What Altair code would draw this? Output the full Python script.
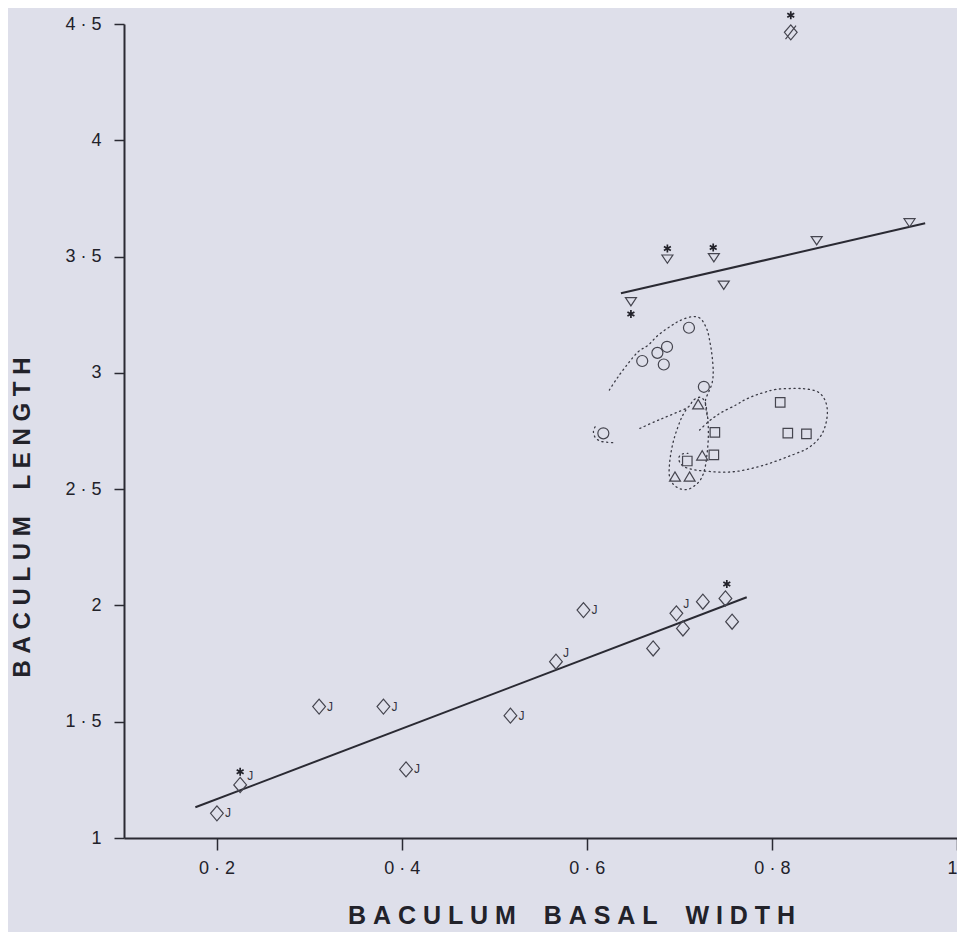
import altair as alt
import pandas as pd

# ---------------- data ----------------
# diamonds (lower series); J = juvenile label position
dia_x = [0.2004, 0.2255, 0.3108, 0.3803, 0.4047, 0.5175, 0.5667, 0.5964,
         0.6717, 0.6968, 0.7039, 0.7254, 0.7498, 0.7570]
dia_y = [1.106, 1.228, 1.565, 1.565, 1.295, 1.526, 1.758, 1.980,
         1.815, 1.966, 1.901, 2.016, 2.030, 1.930]
dia_j = ["right", "upper", "right", "right", "right", "right", "upper", "right",
         "", "upper", "", "", "", ""]

# slashed diamond (top)
sdia_x = [0.8204]
sdia_y = [4.464]

# inverted triangles
tdn_x = [0.6477, 0.6871, 0.7373, 0.7480, 0.8484, 0.9487]
tdn_y = [3.306, 3.489, 3.495, 3.377, 3.568, 3.645]

# circles
cir_x = [0.7104, 0.6867, 0.6763, 0.6599, 0.6832, 0.7265, 0.6179]
cir_y = [3.194, 3.112, 3.086, 3.051, 3.036, 2.940, 2.740]

# triangles
tup_x = [0.7204, 0.7247, 0.6953, 0.7111]
tup_y = [2.864, 2.644, 2.553, 2.553]

# squares
sq_x = [0.8090, 0.7384, 0.8172, 0.8373, 0.7373, 0.7086]
sq_y = [2.873, 2.744, 2.741, 2.738, 2.647, 2.621]

# asterisks
star_x = [0.2255, 0.7513, 0.8204, 0.6477, 0.6871, 0.7366]
star_y = [1.285, 2.092, 4.538, 3.253, 3.535, 3.539]

# regression lines
reg1_x = [0.1771, 0.7728]
reg1_y = [1.132, 2.035]
reg2_x = [0.6369, 0.9656]
reg2_y = [3.342, 3.643]

# dotted envelopes
envA_x = [0.6244, 0.6333, 0.6448, 0.6556, 0.6663, 0.6771, 0.6896, 0.7004, 0.7129,
          0.7226, 0.7298, 0.7333, 0.7355, 0.7366, 0.7355, 0.7319, 0.7283, 0.7290, 0.7308]
envA_y = [2.926, 2.980, 3.041, 3.091, 3.119, 3.162, 3.198, 3.224, 3.241,
          3.234, 3.187, 3.127, 3.069, 3.005, 2.958, 2.919, 2.883, 2.840, 2.804]

envB_x = [0.6574, 0.6735, 0.6842, 0.6968, 0.7093, 0.7154, 0.7226, 0.7276, 0.7298,
          0.7312, 0.7312, 0.7298, 0.7276, 0.7237, 0.7176, 0.7093, 0.7004, 0.6932,
          0.6893, 0.6893, 0.6910, 0.6939, 0.6979, 0.7025, 0.7075]
envB_y = [2.761, 2.790, 2.808, 2.829, 2.852, 2.883, 2.895, 2.876, 2.833,
          2.776, 2.711, 2.647, 2.589, 2.546, 2.518, 2.499, 2.502, 2.522,
          2.556, 2.604, 2.657, 2.711, 2.761, 2.808, 2.843]

envC_x = [0.7219, 0.7326, 0.7452, 0.7613, 0.7703, 0.7810, 0.7918, 0.8043, 0.8258,
          0.8401, 0.8509, 0.8573, 0.8599, 0.8588, 0.8545, 0.8466, 0.8366, 0.8240,
          0.8097, 0.7953, 0.7810, 0.7649, 0.7488, 0.7326, 0.7183, 0.7075, 0.7011,
          0.6996, 0.7032, 0.7093]
envC_y = [2.754, 2.794, 2.829, 2.862, 2.883, 2.902, 2.916, 2.929, 2.933,
          2.929, 2.915, 2.883, 2.840, 2.790, 2.740, 2.700, 2.671, 2.650,
          2.628, 2.608, 2.592, 2.578, 2.573, 2.576, 2.582, 2.592, 2.611,
          2.637, 2.651, 2.654]

envD_x = [0.6090, 0.6072, 0.6090, 0.6143, 0.6215, 0.6280]
envD_y = [2.768, 2.747, 2.723, 2.707, 2.702, 2.700]

x_ticks = [0.2, 0.4, 0.6, 0.8, 1.0]
y_ticks = [1, 1.5, 2, 2.5, 3, 3.5, 4, 4.5]

NB = "\u00a0"
def spaced(words):
    return (NB * 4).join(NB.join(w) for w in words)

x_title = spaced(["BACULUM", "BASAL", "WIDTH"])
y_title = spaced(["BACULUM", "LENGTH"])

# ---------------- chart ----------------
INK = "#2a2a33"
FONT = "Liberation Sans"

xscale = alt.Scale(domain=[0.1, 1.0], nice=False, zero=False)
yscale = alt.Scale(domain=[1, 4.5], nice=False, zero=False)

xaxis = alt.Axis(values=x_ticks, grid=False, title=x_title,
                 labelExpr="datum.value == 1 ? '1' : replace(format(datum.value, '.1f'), '.', ' · ')",
                 tickSize=12, labelPadding=9, labelFontSize=18,
                 titleX=447, titleY=85, titleAlign="center", titleBaseline="alphabetic",
                 titleFontSize=25, titleFontWeight="bold")
yaxis = alt.Axis(values=y_ticks, grid=False, title=y_title,
                 labelExpr="datum.value % 1 == 0 ? format(datum.value, 'd') : replace(format(datum.value, '.1f'), '.', ' · ')",
                 tickSize=10, labelPadding=13, labelFontSize=18,
                 titleX=-95, titleY=493, titleAngle=270, titleAlign="center",
                 titleBaseline="alphabetic", titleFontSize=24, titleFontWeight="bold")


def enc(chart):
    return chart.encode(
        x=alt.X("x:Q", scale=xscale, axis=xaxis),
        y=alt.Y("y:Q", scale=yscale, axis=yaxis),
    )


def df(xs, ys, **extra):
    d = pd.DataFrame({"x": xs, "y": ys})
    d["i"] = range(len(d))
    for k, v in extra.items():
        d[k] = v
    return d


DIAMOND = "M0,-1L0.85,0L0,1L-0.85,0Z"
SDIAMOND = "M0,-1L0.85,0L0,1L-0.85,0Z M-0.7,0.9L0.7,-0.9"
TDOWN = "M-1,-0.75L1,-0.75L0,0.75Z"
TUP = "M-1,0.8L0,-0.9L1,0.8Z"
STAR = "M0,-1L0,1M-0.87,-0.5L0.87,0.5M-0.87,0.5L0.87,-0.5"

layers = []

# envelopes
for ex, ey in [(envA_x, envA_y), (envB_x, envB_y), (envC_x, envC_y), (envD_x, envD_y)]:
    layers.append(enc(alt.Chart(df(ex, ey)).mark_line(
        color="#3a3a44", strokeWidth=1.3, strokeDash=[1.2, 3.6], strokeCap="round",
        interpolate="cardinal")).encode(order="i:Q"))

# regression lines
for rx, ry in [(reg1_x, reg1_y), (reg2_x, reg2_y)]:
    layers.append(enc(alt.Chart(df(rx, ry)).mark_line(color=INK, strokeWidth=2)).encode(order="i:Q"))

# symbols
sym = [
    (dia_x, dia_y, DIAMOND, 225),
    (sdia_x, sdia_y, SDIAMOND, 225),
    (tdn_x, tdn_y, TDOWN, 121),
    (cir_x, cir_y, "circle", 121),
    (tup_x, tup_y, TUP, 121),
    (sq_x, sq_y, "square", 90),
]
for sx, sy, shape, size in sym:
    layers.append(enc(alt.Chart(df(sx, sy)).mark_point(
        shape=shape, size=size, filled=False, color="#45454f", strokeWidth=1.2, opacity=1)))

layers.append(enc(alt.Chart(df(star_x, star_y)).mark_point(
    shape=STAR, size=64, filled=False, color="#22222a", strokeWidth=1.7, opacity=1)))

# J labels
jdf = df(dia_x, dia_y, j=dia_j)
right_j = jdf[jdf["j"] == "right"]
upper_j = jdf[jdf["j"] == "upper"]
layers.append(enc(alt.Chart(right_j).mark_text(
    text="J", align="left", baseline="middle", dx=8, dy=0, fontSize=12,
    font=FONT, color="#333340")))
layers.append(enc(alt.Chart(upper_j).mark_text(
    text="J", align="left", baseline="middle", dx=7, dy=-9, fontSize=12,
    font=FONT, color="#333340")))

chart = alt.layer(*layers).properties(
    width=833, height=814,
    padding={"left": 116, "top": 16, "right": 0, "bottom": 94},
    autosize=alt.AutoSizeParams(type="none"),
    background="#dedfea",
).configure_view(stroke=None).configure_axis(
    domainColor=INK, domainWidth=2, tickColor=INK, tickWidth=1.5,
    labelColor="#22222a", titleColor="#22222a", labelFont=FONT, titleFont=FONT,
)

chart.save("out.html", embed_options={"renderer": "svg", "actions": False})
